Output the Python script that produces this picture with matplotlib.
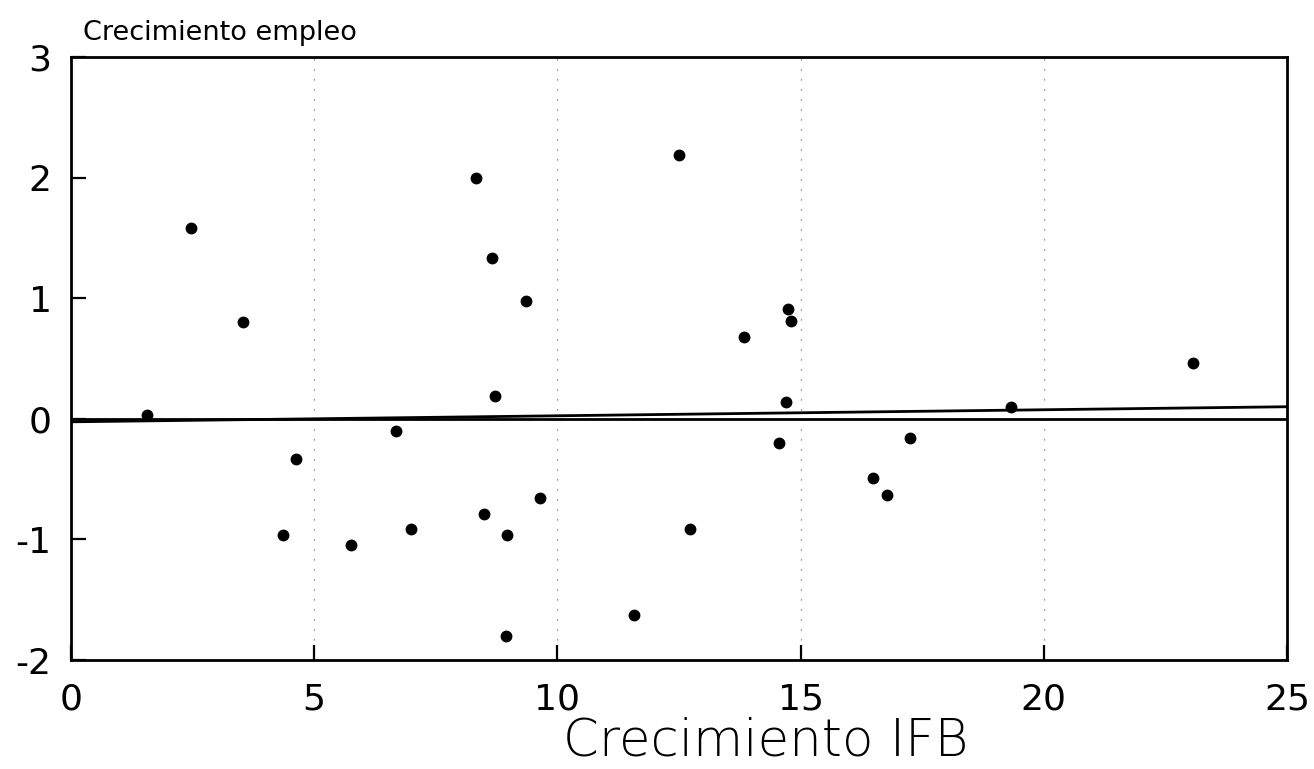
import matplotlib
matplotlib.use("Agg")
import matplotlib.pyplot as plt
import numpy as np

# Data
ifb_growth = [1.56, 2.47, 3.54, 4.36, 4.63, 5.76, 6.69, 7.00, 8.33, 8.50,
              8.66, 8.72, 8.95, 8.97, 9.36, 9.65, 11.58, 12.49, 12.72, 13.83,
              14.55, 14.71, 14.75, 14.81, 16.48, 16.77, 17.24, 19.32, 23.07]
employment_growth = [0.03, 1.58, 0.80, -0.96, -0.33, -1.05, -0.10, -0.91, 2.00, -0.79,
                     1.33, 0.19, -1.80, -0.96, 0.98, -0.66, -1.63, 2.19, -0.91, 0.68,
                     -0.20, 0.14, 0.91, 0.81, -0.49, -0.63, -0.16, 0.10, 0.46]
fit_intercept = -0.025
fit_slope = 0.005
zero_level = 0.0

x_ticks = [0, 5, 10, 15, 20, 25]
y_ticks = [-2, -1, 0, 1, 2, 3]
x_label = "Crecimiento IFB"
y_title = "Crecimiento empleo"

plt.rcParams['font.family'] = ['DejaVu Sans']

fig = plt.figure(figsize=(13.14, 7.69), dpi=100)
ax = fig.add_axes([71 / 1314, 1 - 660 / 769, (1287 - 71) / 1314, (660 - 57) / 769])

ax.set_xlim(x_ticks[0], x_ticks[-1])
ax.set_ylim(y_ticks[0], y_ticks[-1])

# faint dotted grid (scanned artefacts)
for gx in x_ticks[1:-1]:
    ax.axvline(gx, color='0.45', lw=0.9, linestyle=(0, (1, 7)), zorder=1)

# zero line and fitted regression line
ax.axhline(zero_level, color='black', lw=2.0, zorder=2)
xs = np.array([x_ticks[0], x_ticks[-1]], dtype=float)
ax.plot(xs, fit_intercept + fit_slope * xs, color='black', lw=2.0, zorder=2)

ax.plot(ifb_growth, employment_growth, linestyle='none', marker='o',
        markersize=7.5, color='black', zorder=3)

ax.set_xticks(x_ticks)
ax.set_yticks(y_ticks)
ax.set_xticklabels([str(v) for v in x_ticks])
ax.set_yticklabels([str(v) for v in y_ticks])
ax.tick_params(axis='both', direction='in', length=11, width=1.6,
               labelsize=26, colors='black')
ax.tick_params(axis='x', pad=16)
ax.tick_params(axis='y', pad=14)
for sp in ax.spines.values():
    sp.set_linewidth(2.0)
    sp.set_color('black')

fig.text(83 / 1314, 1 - 40 / 769, y_title, fontsize=19.5, ha='left',
         va='baseline', color='black')
fig.text(766 / 1314, 1 - 756 / 769, x_label, fontsize=37, ha='center',
         va='baseline', color='black', fontweight='light')

fig.savefig("out.png", dpi=100, facecolor='white')
